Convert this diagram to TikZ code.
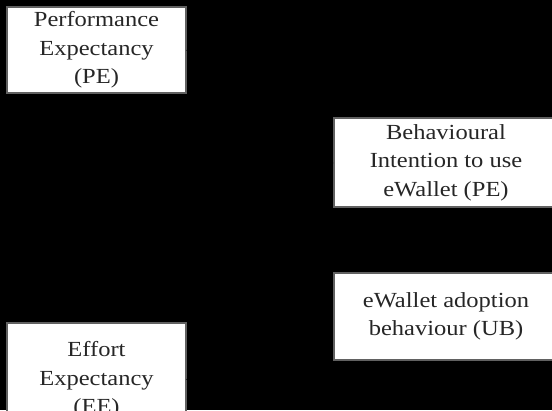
\documentclass[tikz,border=0pt]{standalone}
\usepackage{fontspec}
\setmainfont{Liberation Serif}
\newfontfamily\boxfont[FakeStretch=1.14]{Liberation Serif}
\usetikzlibrary{arrows.meta}
\tikzset{
  box/.style={draw=black!62, line width=1.6pt, fill=white, align=center,
    inner sep=0pt, font=\boxfont\fontsize{21.5}{28.5}\selectfont, text=black!85},
  link/.style={draw=black, line width=1.2pt, -{Stealth[length=7pt,width=6pt]}}
}
\begin{document}
\begin{tikzpicture}[x=1pt,y=-1pt]
\useasboundingbox (0,0) rectangle (552,410);
\fill[black] (0,0) rectangle (552,410);
\begin{scope}
\clip (0,0) rectangle (552,410);
\node[box, minimum width=179pt, minimum height=86pt] (pe) at (96.5,50) {Performance\\Expectancy\\(PE)};
\node[box, minimum width=224pt, minimum height=89pt] (bi) at (446,162.5) {Behavioural\\Intention to use\\eWallet (PE)};
\node[box, minimum width=224pt, minimum height=87pt] (ub) at (446,316.5) {eWallet adoption\\behaviour (UB)};
\node[box, minimum width=179pt, minimum height=114pt] (ee) at (96.5,380) {Effort\\Expectancy\\(EE)};
\draw[link] (pe.east) -- (bi.west);
\draw[link] (ee.east) -- (bi.west);
\draw[link] (bi.south) -- (ub.north);
\end{scope}
\end{tikzpicture}
\end{document}
